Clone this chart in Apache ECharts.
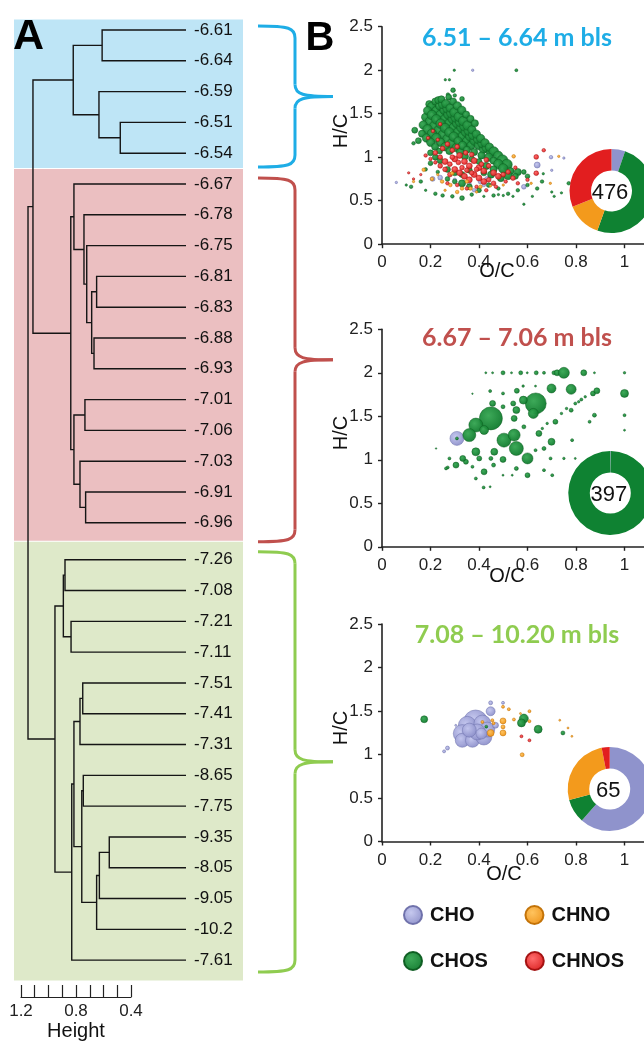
<!DOCTYPE html>
<html><head><meta charset="utf-8">
<script src="https://cdn.jsdelivr.net/npm/echarts@6/dist/echarts.min.js"></script>
<style>html,body{margin:0;padding:0;background:#fff}#c{width:644px;height:1041px}</style>
</head><body><div id="c"></div>
<script>
// ---------- Panel A: dendrogram data ----------
const leafLabels = ['-6.61','-6.64','-6.59','-6.51','-6.54',
  '-6.67','-6.78','-6.75','-6.81','-6.83','-6.88','-6.93','-7.01','-7.06','-7.03','-6.91','-6.96',
  '-7.26','-7.08','-7.21','-7.11','-7.51','-7.41','-7.31','-8.65','-7.75','-9.35','-8.05','-9.05','-10.2','-7.61'];
const groupLeafCounts = [5, 12, 14];
// merges: [childA, childB, height]; negative = leaf (1-based), positive = earlier merge (1-based)
const merges = [
  [-4,-5,0.478],[-1,-2,0.61],[-3,1,0.633],[2,3,0.82],
  [-9,-10,0.65],[-11,-12,0.669],[5,6,0.686],[-8,7,0.722],[-7,8,0.742],[-6,9,0.815],
  [-13,-14,0.735],[-16,-17,0.73],[-15,12,0.771],[11,13,0.815],[10,14,0.838],[4,15,1.113],
  [-18,-19,0.88],[-20,-21,0.836],[17,18,0.892],[-22,-23,0.751],[20,-24,0.771],
  [-25,-26,0.747],[-27,-28,0.558],[23,-29,0.63],[24,-30,0.65],[22,25,0.758],
  [21,26,0.815],[27,-31,0.831],[19,28,0.953],[16,29,1.149]
];
const heightAxisTicks = [0.4, 1.2];

// ---------- Panel B data: [O/C, H/C, bubble size] ----------
const classes = ['CHO','CHOS','CHNOS','CHNO'];
const panelTitles = ['6.51 \u2013 6.64 m bls','6.67 \u2013 7.06 m bls','7.08 \u2013 10.20 m bls'];
const pieOrder = ['CHO','CHOS','CHNO','CHNOS'];
const pie1Counts = [25, 239, 64, 148];
const pie2Counts = [1, 396, 0, 0];
const pie3Counts = [40, 6, 17, 2];

const p1CHO = [[0.209,0.75,4],[0.24,0.765,4],[0.433,0.75,4],[0.585,0.66,4],[0.64,0.91,5],[0.697,1.00,3],[0.406,0.72,4],[0.42,0.68,3],[0.059,0.71,2],[0.30,0.74,3],[0.36,0.70,3],[0.374,2.0,2],[0.38,0.62,3],[0.75,0.99,2],[0.70,0.85,2]];
const p1CHNO = [[0.543,1.01,3],[0.729,1.01,2],[0.615,0.70,2],[0.694,0.70,2],[0.172,0.855,3],[0.248,0.72,3],[0.289,0.815,3],[0.33,0.64,3],[0.365,0.64,3],[0.406,0.66,3],[0.206,0.75,3],[0.282,0.68,3],[0.447,0.67,2],[0.13,0.72,2],[0.31,0.60,3],[0.39,0.60,2],[0.23,0.80,2],[0.35,0.72,3],[0.50,0.68,2],[0.26,0.62,2]];
const p1CHOS = [
  [0.298,2.00,2],[0.554,2.00,2.5],[0.261,1.89,2],[0.278,1.89,2],[0.293,1.77,4],[0.272,1.72,3],[0.30,1.71,3],[0.33,1.67,4],
  [0.195,1.61,6],[0.212,1.56,7],[0.23,1.51,7],[0.248,1.46,8],[0.266,1.41,8],[0.284,1.36,8],[0.302,1.31,8],[0.32,1.26,8],[0.338,1.21,7],[0.356,1.16,7],
  [0.205,1.585,7],[0.223,1.535,7],[0.241,1.485,8],[0.259,1.435,8],[0.277,1.385,8],[0.295,1.335,8],[0.313,1.285,8],[0.331,1.235,8],[0.349,1.185,7],[0.367,1.135,7],
  [0.22,1.64,6],[0.238,1.59,7],[0.256,1.54,7],[0.274,1.49,8],[0.292,1.44,8],[0.31,1.39,8],[0.328,1.34,8],[0.346,1.29,8],[0.364,1.24,8],[0.382,1.19,8],[0.40,1.14,8],[0.418,1.09,7],
  [0.232,1.655,6],[0.25,1.605,7],[0.268,1.555,7],[0.286,1.505,8],[0.304,1.455,8],[0.322,1.405,8],[0.34,1.355,8],[0.358,1.305,8],[0.376,1.255,8],[0.394,1.205,7],[0.412,1.155,7],[0.43,1.105,7],[0.448,1.055,7],
  [0.245,1.665,6],[0.263,1.615,7],[0.281,1.565,7],[0.299,1.515,8],[0.317,1.465,8],[0.335,1.415,8],[0.353,1.365,8],[0.371,1.315,7],[0.389,1.265,7],[0.407,1.215,7],[0.425,1.165,7],[0.443,1.115,7],[0.461,1.065,8],[0.479,1.015,8],[0.497,0.965,9],[0.515,0.915,9],
  [0.275,1.69,5],[0.293,1.64,6],[0.311,1.59,7],[0.329,1.54,7],[0.347,1.49,6],[0.365,1.44,6],[0.383,1.39,6],
  [0.18,1.46,7],[0.198,1.41,8],[0.216,1.36,8],[0.234,1.31,8],[0.252,1.26,8],[0.27,1.21,8],[0.288,1.16,8],[0.306,1.11,7],[0.324,1.06,7],[0.342,1.01,6],
  [0.188,1.535,7],[0.206,1.485,8],[0.224,1.435,8],[0.242,1.385,8],[0.26,1.335,8],[0.278,1.285,8],[0.296,1.235,8],[0.314,1.185,7],[0.332,1.135,7],[0.35,1.085,6],
  [0.17,1.37,7],[0.188,1.32,8],[0.206,1.27,8],[0.224,1.22,8],[0.242,1.17,7],[0.26,1.12,7],[0.278,1.07,6],
  [0.165,1.27,6],[0.183,1.22,7],[0.201,1.17,7],[0.219,1.12,6],[0.237,1.07,5],
  [0.44,1.00,7],[0.46,0.96,6],[0.48,0.92,8],[0.50,0.87,8],[0.53,0.84,6],[0.56,0.83,6],[0.52,0.79,7],[0.46,0.86,6],[0.43,0.90,6],[0.40,0.95,5],[0.37,0.98,5],[0.41,1.02,6],[0.38,1.06,6],[0.45,0.80,6],[0.49,0.76,6],[0.42,0.82,5],[0.55,0.78,5],[0.60,0.78,4],[0.585,0.83,4],[0.36,0.85,5],[0.33,0.80,5],[0.30,0.82,5],[0.27,0.86,5],[0.24,0.96,5],[0.22,1.00,5],[0.20,1.05,5],
  [0.135,1.31,5],[0.15,1.19,5],[0.13,1.16,3],[0.20,0.93,4],[0.18,0.86,3],[0.23,0.83,3],[0.27,0.75,4],[0.30,0.72,4],[0.33,0.70,6],[0.36,0.66,5],[0.40,0.62,4],[0.44,0.68,4],[0.48,0.64,3],[0.52,0.58,3],[0.56,0.62,3],[0.60,0.68,3],[0.64,0.64,3],[0.70,0.60,2],[0.74,0.59,2],[0.66,0.72,3],[0.585,0.46,2],[0.77,0.70,3],[0.10,0.68,2],[0.12,0.66,3],[0.16,0.72,3],[0.18,0.62,2],[0.22,0.58,3],[0.25,0.56,3],[0.29,0.55,3],[0.33,0.53,4],[0.37,0.57,3],[0.42,0.55,2],[0.46,0.56,3],[0.50,0.56,2],[0.54,0.55,2],[0.665,0.81,2],[0.71,0.55,2],[0.48,0.57,2],[0.62,0.55,2]
];
const p1CHNOS = [[0.22,1.05,4],[0.24,1.00,4],[0.26,0.95,5],[0.28,0.92,4],[0.30,0.98,5],[0.32,1.02,5],[0.34,0.95,5],[0.36,0.90,5],[0.38,0.96,5],[0.40,0.88,5],[0.42,0.84,5],[0.44,0.90,4],[0.46,0.82,5],[0.48,0.78,5],[0.50,0.80,4],[0.52,0.83,4],[0.54,0.76,4],[0.30,0.86,5],[0.32,0.82,5],[0.34,0.78,5],[0.36,0.74,5],[0.38,0.80,5],[0.40,0.76,5],[0.42,0.72,5],[0.44,0.74,4],[0.46,0.70,4],[0.28,0.80,4],[0.26,0.86,4],[0.24,0.90,4],[0.22,0.94,3],[0.20,0.98,3],[0.18,1.02,3],[0.25,1.10,4],[0.27,1.15,4],[0.29,1.08,4],[0.31,1.12,4],[0.23,1.20,3],[0.21,1.30,3],[0.24,1.38,3],[0.19,1.22,3],[0.35,0.85,4],[0.37,0.82,4],[0.39,0.86,4],[0.41,0.92,4],[0.43,0.97,4],[0.33,0.88,4],[0.27,0.70,3],[0.31,0.68,3],[0.35,0.64,3],[0.39,0.66,3],[0.43,0.62,3],[0.47,0.66,3],[0.51,0.72,3],[0.56,0.70,3],[0.60,0.74,3],[0.16,0.80,2],[0.13,0.75,2],[0.11,0.82,2],[0.636,1.003,4],[0.667,1.08,3],[0.636,0.816,4],[0.55,0.88,3],[0.345,1.05,4],[0.37,1.03,4],[0.29,1.00,4],[0.315,0.94,4]];

const p2CHO = [[0.309,1.246,14]];
const p2CHNO = [];
const p2CHNOS = [];
const p2CHOS = [
  [0.428,2.0,2],[0.456,2.0,2],[0.499,2.0,4],[0.534,2.0,2],[0.572,2.0,4],[0.599,2.0,2],[0.636,2.0,4],[0.668,2.0,3],[0.709,2.0,4],[0.722,2.0,6],[0.750,2.0,11],[0.832,2.0,6],[0.876,2.0,2],[1.0,2.0,2.5],
  [0.556,1.793,5],[0.582,1.847,2.5],[0.633,1.847,2],[0.699,1.82,9],[0.78,1.81,10],[0.87,1.763,5],[0.886,1.793,6],[1.0,1.763,8],[0.446,1.79,3],[0.373,1.76,1.5],
  [0.449,1.476,23],[0.634,1.648,21],[0.387,1.399,14],[0.36,1.284,13],[0.421,1.342,9],[0.503,1.226,14],[0.545,1.284,12],[0.554,1.13,14],[0.6,1.016,11],[0.624,1.533,10],[0.583,1.686,8],
  [0.699,1.207,7],[0.715,1.437,5],[0.78,1.57,4],[0.797,1.647,3],[0.822,1.693,3],[0.876,1.513,4],[0.856,1.437,3],[1.0,1.513,3],[1.0,1.34,2],
  [0.456,1.648,6],[0.499,1.61,4],[0.499,1.763,3],[0.541,1.648,5],[0.554,1.571,7],[0.545,1.476,6],[0.585,1.379,4],[0.647,1.303,6],[0.633,1.111,3],[0.668,1.13,4],[0.695,1.016,3],[0.75,1.016,2.5],[0.797,1.016,2],
  [0.278,1.016,3],[0.305,0.939,6],[0.346,0.977,5],[0.333,1.016,6],[0.387,1.092,8],[0.401,1.016,5],[0.463,1.092,7],[0.449,1.016,4],[0.499,1.004,6],[0.421,0.862,6],[0.387,0.785,3],[0.46,0.939,4],[0.554,0.9,4],[0.6,0.823,5],[0.668,0.881,3],[0.702,0.823,3],[0.419,0.682,3],[0.446,0.69,2],[0.537,0.823,2],[0.499,0.823,2],[0.373,0.92,3],[0.271,0.912,3],
  [0.784,1.226,3],[0.661,1.36,2.5],[0.681,1.418,2.5],[0.74,1.533,2.5],[0.761,1.59,2.5],[0.811,1.667,2.5],[0.838,1.724,2.5],
  [0.264,0.901,3],[0.223,1.13,1.5],[0.309,1.246,3]
];

const p3CHO = [[0.386,1.374,24],[0.352,1.335,18],[0.414,1.355,17],[0.331,1.24,18],[0.331,1.163,14],[0.373,1.163,14],[0.42,1.201,16],[0.434,1.286,15],[0.393,1.259,16],[0.36,1.28,14],[0.41,1.24,11],[0.448,1.497,9],[0.468,1.336,6],[0.448,1.594,4],[0.499,1.594,3],[0.27,1.074,4],[0.256,1.036,3],[0.304,1.335,2]];
const p3CHNO = [[0.499,1.386,6],[0.499,1.317,4],[0.499,1.248,6],[0.448,1.248,7],[0.414,1.374,3],[0.455,1.394,3],[0.499,1.548,3],[0.523,1.521,3],[0.544,1.402,3],[0.571,1.471,2],[0.608,1.498,3],[0.608,1.383,3],[0.578,0.997,4],[0.733,1.394,2],[0.767,1.305,2],[0.783,1.209,2],[0.46,1.36,3]];
const p3CHOS = [[0.174,1.405,7],[0.585,1.413,9],[0.575,1.363,8],[0.644,1.29,8],[0.746,1.248,4],[0.43,1.32,3]];
const p3CHNOS = [[0.575,1.209,3],[0.608,1.163,3]];

// ---------- styling ----------
const FONT = '"Liberation Sans", Arial, sans-serif';
const groupBandColors = ['#BEE5F6','#EBBFC1','#DEE9C9'];
const groupAccent = ['#1EADE6','#C0504D','#8FCC50'];
const base = {CHO:'#8C8FCA', CHNO:'#EE9215', CHOS:'#0E7A2C', CHNOS:'#DA1A1A'};
const light = {CHO:'#C3C6EE', CHNO:'#FFC055', CHOS:'#33A550', CHNOS:'#FF6464'};
const edge = {CHO:'#6A6DA8', CHNO:'#C06E00', CHOS:'#0A5A1E', CHNOS:'#A00C0C'};
const pieColor = {CHO:'#8F93CC', CHNO:'#F39A1C', CHOS:'#0F8232', CHNOS:'#E21E1F'};
const sizeScale = [1.2, 1, 1];
function grad(c){ return {type:'radial', x:0.4, y:0.38, r:0.65, colorStops:[{offset:0,color:light[c]},{offset:1,color:base[c]}]}; }

// ---------- dendrogram geometry (computed from tree) ----------
const GROUP_SHIFT = [0, 0, 0.2];
const leafPos = [];
(function(){ let idx=0; groupLeafCounts.forEach((n,g)=>{ for(let k=0;k<n;k++){ leafPos.push(idx + GROUP_SHIFT[g]); idx++; } }); })();
const nodeH = [], nodeY = [];
function ref(r){ return r<0 ? [0, leafPos[-r-1]] : [nodeH[r-1], nodeY[r-1]]; }
const segs = merges.map(([a,b,h],i)=>{ const A=ref(a), B=ref(b); nodeH[i]=h; nodeY[i]=(A[1]+B[1])/2; return [[A[0],A[1]],[h,A[1]],[h,B[1]],[B[0],B[1]]]; });
const bands = [];
(function(){ let s=0; groupLeafCounts.forEach((n,g)=>{ const first=leafPos[s], last=leafPos[s+n-1];
  const top = g===0 ? first-0.36 : (leafPos[s-1]+first)/2;
  const bot = g===groupLeafCounts.length-1 ? last+0.68 : (last+leafPos[s+n])/2;
  bands.push([top, bot, g]); s+=n; }); })();

// ---------- layout ----------
const panelTops = [26.7, 329.3, 624];
const panelH = 217.5;
const panelLeft = 382, panelW = 291;
const pieCenters = [[611.5,191],[610.3,493],[609.7,789]];
const allPieCounts = [pie1Counts, pie2Counts, pie3Counts];
const panelData = [
  {CHO:p1CHO, CHNO:p1CHNO, CHOS:p1CHOS, CHNOS:p1CHNOS},
  {CHO:p2CHO, CHNO:p2CHNO, CHOS:p2CHOS, CHNOS:p2CHNOS},
  {CHO:p3CHO, CHNO:p3CHNO, CHOS:p3CHOS, CHNOS:p3CHNOS}
];
const titleY = [37.7, 337.7, 635];
const hcY = [131, 433, 728];
const ocPos = [[497,271],[507,576],[504,874]];

const grids = [
  {left:21, top:14.6, width:165, height:970.2, outerBoundsMode:'none', containLabel:false},
  {left:21, top:985, width:110, height:12, outerBoundsMode:'none', containLabel:false}
];
const xAxes = [
  {gridIndex:0, type:'value', min:0, max:1.2, inverse:true, show:false},
  {gridIndex:1, type:'value', min:heightAxisTicks[0], max:heightAxisTicks[1], interval:0.1, inverse:true, position:'bottom',
   axisLine:{lineStyle:{color:'#222', width:1.2}}, axisTick:{inside:true, length:12, lineStyle:{color:'#222', width:1.2}},
   splitLine:{show:false},
   axisLabel:{margin:6, color:'#222', fontSize:17, fontFamily:FONT, showMinLabel:true, showMaxLabel:true,
     formatter:v=> (Math.round(v*10)%4===0 ? v.toFixed(1) : '')},
   name:'Height', nameLocation:'middle', nameGap:24, nameTextStyle:{fontSize:20, fontFamily:FONT, color:'#111'}}
];
const yAxes = [
  {gridIndex:0, type:'value', min:-0.5, max:31, inverse:true, show:false},
  {gridIndex:1, type:'value', show:false}
];
for (let p=0;p<3;p++){
  grids.push({left:panelLeft, top:panelTops[p], width:panelW, height:panelH, outerBoundsMode:'none', containLabel:false});
  xAxes.push({gridIndex:p+2, type:'value', min:0, max:1.2, interval:0.2,
    axisLine:{onZero:false, lineStyle:{color:'#222', width:1.6}}, axisTick:{length:4, lineStyle:{color:'#222', width:1.4}},
    splitLine:{show:false}, axisLabel:{margin:10, color:'#222', fontSize:17, fontFamily:FONT}});
  yAxes.push({gridIndex:p+2, type:'value', min:0, max:2.5, interval:0.5,
    axisLine:{show:true, onZero:false, lineStyle:{color:'#222', width:1.6}}, axisTick:{show:true, length:4, lineStyle:{color:'#222', width:1.4}},
    splitLine:{show:false}, axisLabel:{margin:9, color:'#222', fontSize:17, fontFamily:FONT}});
}

const series = [];
// bands
series.push({type:'custom', xAxisIndex:0, yAxisIndex:0, silent:true, z:1,
  data: bands.map(b=>[0, b[0], b[1], b[2]]),
  renderItem:(params, api)=>{
    const b = bands[params.dataIndex];
    const y0 = api.coord([0,b[0]])[1], y1 = api.coord([0,b[1]])[1];
    const cs = params.coordSys;
    return {type:'rect', shape:{x:cs.x-7, y:y0+0.5, width:cs.width+64, height:y1-y0-1}, style:{fill:groupBandColors[b[2]]}};
  }});
// dendrogram links
series.push({type:'custom', xAxisIndex:0, yAxisIndex:0, silent:true, z:3,
  data: segs.map(s=>[s[1][0], s[1][1]]),
  renderItem:(params, api)=>{
    const s = segs[params.dataIndex];
    return {type:'polyline', shape:{points:s.map(p=>api.coord(p))}, style:{stroke:'#151515', lineWidth:1.4, fill:'none'}};
  }});
// leaf labels
series.push({type:'custom', xAxisIndex:0, yAxisIndex:0, silent:true, z:4,
  data: leafPos.map(p=>[0,p]),
  renderItem:(params, api)=>{
    const pt = api.coord([0, leafPos[params.dataIndex]]);
    return {type:'text', style:{text:leafLabels[params.dataIndex], x:pt[0]+8, y:pt[1], align:'left', verticalAlign:'middle', font:'17px '+FONT, fill:'#111'}};
  }});
// scatter panels
for (let p=0;p<3;p++){
  classes.forEach((c,ci)=>{
    series.push({type:'scatter', name:c, xAxisIndex:p+2, yAxisIndex:p+2, silent:true, z:5+ci,
      data: panelData[p][c], symbol:'circle', symbolSize:v=>v[2]*sizeScale[p],
      itemStyle:{color:grad(c), borderColor:edge[c], borderWidth:0.5, opacity:0.95}});
  });
  series.push({type:'pie', silent:true, z:20, center:pieCenters[p], radius:[20.5,42], startAngle:90, clockwise:true,
    label:{show:false}, labelLine:{show:false}, emphasis:{disabled:true},
    itemStyle:{borderWidth:0},
    data: pieOrder.map((n,i)=>({name:n, value:allPieCounts[p][i], itemStyle:{color:pieColor[n]}}))});
}

// ---------- graphics: letters, titles, axis names, braces, counts ----------
const graphic = [];
graphic.push({type:'text', x:28.5, y:37, style:{text:'A', font:'bold 43px '+FONT, fill:'#000', align:'center', verticalAlign:'middle'}, z:50});
graphic.push({type:'text', x:320, y:39, style:{text:'B', font:'bold 40px '+FONT, fill:'#000', align:'center', verticalAlign:'middle'}, z:50});
for (let p=0;p<3;p++){
  graphic.push({type:'text', x:517, y:titleY[p], style:{text:panelTitles[p], font:'bold 25px Lato, '+FONT, fill:groupAccent[p], align:'center', verticalAlign:'middle'}, z:50});
  graphic.push({type:'text', x:341, y:hcY[p], rotation:Math.PI/2, style:{text:'H/C', font:'20px '+FONT, fill:'#111', align:'center', verticalAlign:'middle'}, z:50});
  graphic.push({type:'text', x:ocPos[p][0], y:ocPos[p][1], style:{text:'O/C', font:'20px '+FONT, fill:'#111', align:'center', verticalAlign:'middle'}, z:50});
  const total = allPieCounts[p].reduce((a,b)=>a+b,0);
  graphic.push({type:'text', x:pieCenters[p][0]-1.5, y:pieCenters[p][1]+1.5, style:{text:String(total), font:'22px '+FONT, fill:'#111', align:'center', verticalAlign:'middle'}, z:60});
}
function brace(top, bottom, color){
  const xs=258, xv=295, xt=333, r=12, mid=(top+bottom)/2;
  const st = {stroke:color, lineWidth:3, fill:'none'};
  return [
    {type:'bezierCurve', shape:{x1:xs,y1:top,cpx1:xv-6,cpy1:top,cpx2:xv,cpy2:top+2,x2:xv,y2:top+r}, style:st},
    {type:'line', shape:{x1:xv,y1:top+r,x2:xv,y2:mid-r}, style:st},
    {type:'bezierCurve', shape:{x1:xv,y1:mid-r,cpx1:xv,cpy1:mid-2,cpx2:xv+8,cpy2:mid,x2:xt,y2:mid}, style:st},
    {type:'bezierCurve', shape:{x1:xt,y1:mid,cpx1:xv+8,cpy1:mid,cpx2:xv,cpy2:mid+2,x2:xv,y2:mid+r}, style:st},
    {type:'line', shape:{x1:xv,y1:mid+r,x2:xv,y2:bottom-r}, style:st},
    {type:'bezierCurve', shape:{x1:xv,y1:bottom-r,cpx1:xv,cpy1:bottom-2,cpx2:xv-6,cpy2:bottom,x2:xs,y2:bottom}, style:st}
  ];
}
graphic.push(...brace(26, 167, groupAccent[0]), ...brace(178, 541.7, groupAccent[1]), ...brace(551.7, 972, groupAccent[2]));

const legendCommon = {orient:'horizontal', left:403, itemWidth:18, itemHeight:18, icon:'circle', padding:0, selectedMode:false,
  textStyle:{fontSize:20, fontWeight:'bold', fontFamily:FONT, color:'#111', padding:[0,0,0,3]}};
const option = {
  animation:false,
  backgroundColor:'#fff',
  grid: grids, xAxis: xAxes, yAxis: yAxes, series: series, graphic: graphic,
  legend: [
    Object.assign({}, legendCommon, {top:905, itemGap:50, data:['CHO','CHNO']}),
    Object.assign({}, legendCommon, {top:951, itemGap:37, data:['CHOS','CHNOS']})
  ]
};
const chart = echarts.init(document.getElementById('c'), null, {renderer:'canvas'});
chart.setOption(option);
</script></body></html>
